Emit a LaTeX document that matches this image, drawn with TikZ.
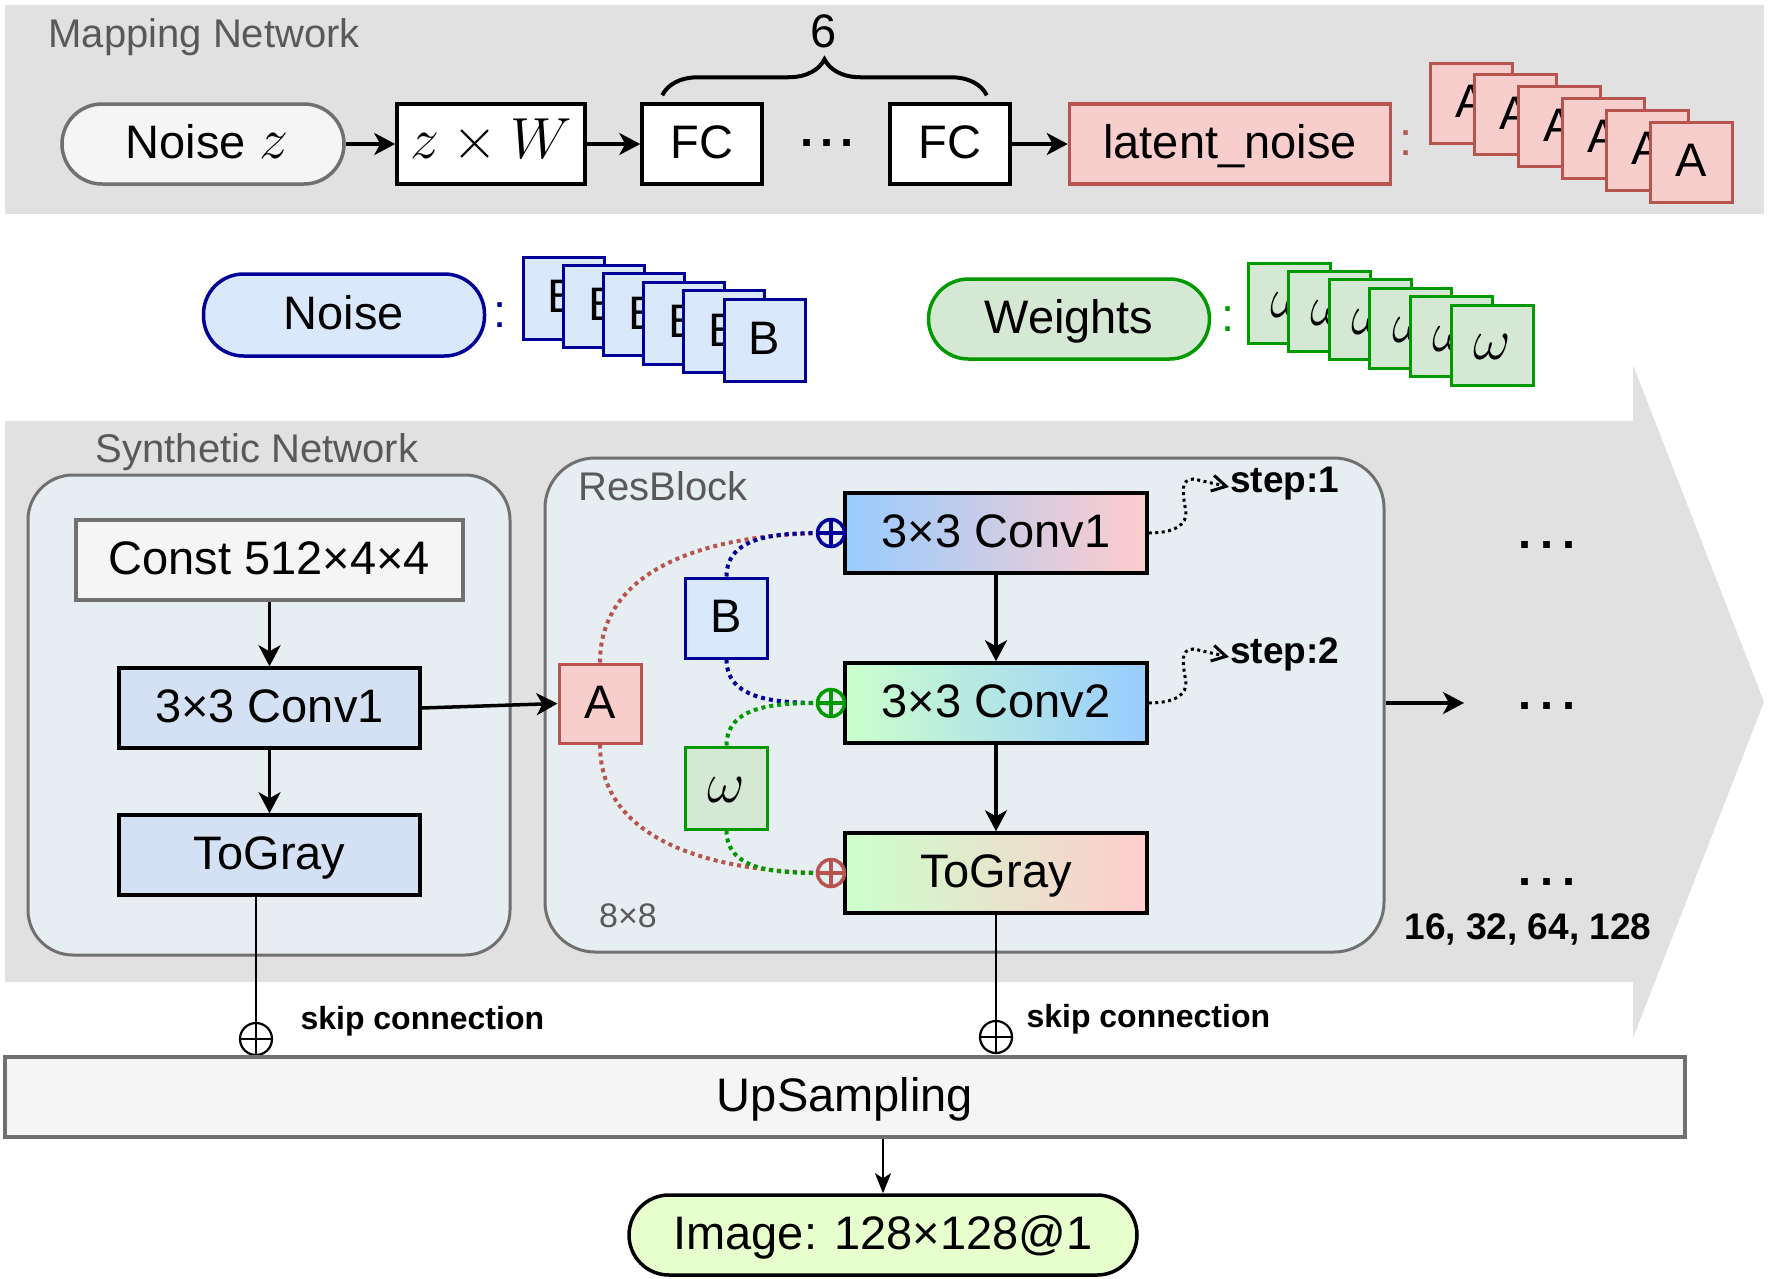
\RequirePackage{fix-cm}
\documentclass[tikz,border=0pt]{standalone}
\usepackage{fontspec}
\setmainfont{Liberation Sans}
\usetikzlibrary{arrows.meta, decorations.pathreplacing}

\definecolor{bggray}{HTML}{E1E1E1}
\definecolor{innerbg}{HTML}{E7EEF1}
\definecolor{boxgray}{HTML}{707070}
\definecolor{txtgray}{HTML}{595959}
\definecolor{redfill}{HTML}{F8CECC}
\definecolor{redline}{HTML}{B85450}
\definecolor{bluefill}{HTML}{DAE8FC}
\definecolor{blueline}{HTML}{000099}
\definecolor{greenfill}{HTML}{D5E8D4}
\definecolor{greenline}{HTML}{009900}
\definecolor{convblue}{HTML}{D4E1F5}
\definecolor{gblue}{HTML}{99CCFF}
\definecolor{gpink}{HTML}{FFCCCC}
\definecolor{ggreen}{HTML}{CCFFCC}
\definecolor{offwhite}{HTML}{F5F5F5}
\definecolor{imgfill}{HTML}{E6FFCC}

\newcommand{\fsmain}{\fontsize{47}{52}\selectfont}
\newcommand{\fslab}{\fontsize{40}{44}\selectfont}
\newcommand{\fsmath}{\fontsize{58}{62}\selectfont}
\newcommand{\fsstep}{\fontsize{37}{40}\selectfont\bfseries}
\newcommand{\fsskip}{\fontsize{32}{36}\selectfont\bfseries}

\begin{document}
\begin{tikzpicture}[x=1pt,y=-1pt,
  box/.style={draw, line width=3.5pt, inner sep=0pt, minimum height=80pt, font=\fsmain, text=black, text height=29pt, text depth=0pt},
  pill/.style={box, rounded corners=40pt},
  stk/.style={box, line width=3pt, minimum width=82pt, minimum height=80pt},
  arr/.style={line width=3.5pt, -{Stealth[length=21pt,width=22pt,inset=6pt]}},
  dotc/.style={line width=4pt, dash pattern=on 4pt off 4pt},
  opl/.style={circle, draw=#1, line width=3.5pt, minimum size=27pt, inner sep=0pt,
    path picture={\draw[#1, line width=3.5pt] (path picture bounding box.north) -- (path picture bounding box.south) (path picture bounding box.west) -- (path picture bounding box.east);}},
  oplb/.style={circle, draw=black, line width=2.2pt, minimum size=32pt, inner sep=0pt,
    path picture={\draw[black, line width=2.2pt] (path picture bounding box.north) -- (path picture bounding box.south) (path picture bounding box.west) -- (path picture bounding box.east);}},
  stepar/.style={line width=3pt, dash pattern=on 3pt off 3.5pt, -{Straight Barb[length=14pt,width=16pt,line width=3pt]}},
  dotsn/.style={font=\fsmain\bfseries, inner sep=1pt}
]
\useasboundingbox (0,0) rectangle (1770,1278);
\fill[white] (0,0) rectangle (1770,1278);

% backgrounds
\fill[bggray] (5,5) rectangle (1764,214);
\fill[bggray] (5,421) -- (1633,421) -- (1633,365) -- (1764,702) -- (1633,1038) -- (1633,982) -- (5,982) -- cycle;

% ---- Mapping network ----
\node[font=\fslab, text=txtgray, anchor=west] (mapt) at (45,37) {Mapping Network};
\node[pill, draw=boxgray, fill=offwhite, minimum width=282pt] (noisez) at (203,144) {\hspace{8pt}Noise {\fsmath$z$}};
\node[box, fill=white, minimum width=188pt] (zw) at (491,144) {\fsmath$z\times W$};
\node[box, fill=white, minimum width=120pt] (fc1) at (702,144) {FC};
\node[font=\fsmain\bfseries, inner sep=1pt] (tdots) at (827,143) {.\hspace{7pt}.\hspace{7pt}.};
\node[box, fill=white, minimum width=120pt] (fc2) at (950,144) {FC};
\node[box, draw=redline, fill=redfill, minimum width=321pt] (latent) at (1230,144) {latent\_noise};
\node[font=\fsmain, text=redline, inner sep=0pt] (c1) at (1406,143) {:};
\foreach \i in {0,...,5}
  \node[stk, draw=redline, fill=redfill] (a\i) at ({1471+44*\i},{103+11.8*\i}) {A};

\draw[arr] (noisez) -- (zw);
\draw[arr] (zw) -- (fc1);
\draw[arr] (fc2) -- (latent);
\draw[line width=4pt, decorate, decoration={brace, amplitude=36pt}]
  ([shift={(22pt,7pt)}]fc1.north west) -- ([shift={(-25pt,7pt)}]fc2.north east);
\node[font=\fsmain] (six) at (824,31) {6};

% ---- Noise / Weights row ----
\node[pill, draw=blueline, fill=bluefill, minimum width=281pt, minimum height=82pt] (noise) at (344,315) {Noise};
\node[font=\fsmain, text=blueline, inner sep=0pt] (c2) at (500,315) {:};
\foreach \i in {0,...,5}
  \node[stk, draw=blueline, fill=bluefill, minimum width=81pt, minimum height=82pt] (b\i) at ({563.5+40.2*\i},{298+8.4*\i}) {B};

\node[pill, draw=greenline, fill=greenfill, minimum width=281pt] (weights) at (1069,319) {Weights};
\node[font=\fsmain, text=greenline, inner sep=0pt] (c3) at (1228,319) {:};
\foreach \i in {0,...,5}
  \node[stk, draw=greenline, fill=greenfill] (w\i) at ({1289+40.6*\i},{303+8.4*\i}) {\fsmath$\omega$};

% ---- Synthetic network ----
\node[font=\fslab, text=txtgray] (synt) at (257,452) {Synthetic Network};
\node[draw=boxgray, line width=3pt, fill=innerbg, rounded corners=45pt, minimum width=482pt, minimum height=480pt] (lbox) at (269,715) {};
\node[box, draw=boxgray, fill=offwhite, minimum width=387pt] (const) at (269.5,560) {Const 512×4×4};
\node[box, fill=convblue, minimum width=301pt] (lconv) at (269.5,708) {3×3 Conv1};
\node[box, fill=convblue, minimum width=301pt] (ltog) at (269.5,855) {ToGray};
\draw[arr] (const) -- (lconv);
\draw[arr] (lconv) -- (ltog);

% ResBlock
\node[draw=boxgray, line width=3pt, fill=innerbg, rounded corners=50pt, minimum width=839pt, minimum height=494pt] (res) at (964.5,705) {};
\node[font=\fslab, text=txtgray, anchor=west] (rest) at (575,486) {ResBlock};
\node[font=\fontsize{34}{38}\selectfont, text=txtgray] (eight) at (628,916) {8×8};
\node[stk, draw=redline, fill=redfill, minimum height=79pt] (ra) at (600,703.5) {A};
\node[stk, draw=blueline, fill=bluefill] (rb) at (726.5,618) {B};
\node[stk, draw=greenline, fill=greenfill, minimum height=82pt] (rw) at (726.5,788) {\fsmath$\omega$};
\node[box, left color=gblue, right color=gpink, minimum width=302pt] (rc1) at (996,533) {3×3 Conv1};
\node[box, left color=ggreen, right color=gblue, minimum width=302pt] (rc2) at (996,703) {3×3 Conv2};
\node[box, left color=ggreen, right color=gpink, minimum width=302pt] (rtg) at (996,873) {ToGray};

\draw[arr] (lconv.east) -- (ra.west);
\draw[arr] (rc1) -- (rc2);
\draw[arr] (rc2) -- (rtg);

\draw[dotc, redline] (ra.north) to[out=90,in=180] (831,533);
\draw[dotc, redline] (ra.south) to[out=-90,in=180] (831,873);
\draw[dotc, blueline] (rb.north) to[out=90,in=180] (831,533);
\draw[dotc, blueline] (rb.south) to[out=-90,in=180] (831,703);
\draw[dotc, greenline] (rw.north) to[out=90,in=180] (831,703);
\draw[dotc, greenline] (rw.south) to[out=-90,in=180] (831,873);
\node[opl=blueline] (p1) at (831,533) {};
\node[opl=greenline] (p2) at (831,703) {};
\node[opl=redline] (p3) at (831,873) {};

% step arrows
\node[font=\fsstep, anchor=west, inner sep=1pt] (st1) at (1229,484) {step:1};
\node[font=\fsstep, anchor=west, inner sep=1pt] (st2) at (1229,654) {step:2};
\draw[stepar] (rc1.east) .. controls +(25,0) and +(2,14) .. ++(37,-22)
   .. controls +(-3,-18) and +(-14,0) .. ++(8,-32) -- ([yshift=-3pt]st1.west);
\draw[stepar] (rc2.east) .. controls +(25,0) and +(2,14) .. ++(37,-22)
   .. controls +(-3,-18) and +(-14,0) .. ++(8,-32) -- ([yshift=-3pt]st2.west);

% continuation
\coordinate (resarr) at (1464,703);
\draw[arr] (res.east |- resarr) -- (resarr);
\node[dotsn] (d1) at (1547,545) {.\hspace{9pt}.\hspace{9pt}.};
\node[dotsn] (d2) at (1547,706) {.\hspace{9pt}.\hspace{9pt}.};
\node[dotsn] (d3) at (1547,882) {.\hspace{9pt}.\hspace{9pt}.};
\node[font=\fsstep] (sizes) at (1528,929) {16, 32, 64, 128};

% ---- skip connections / upsampling ----
\node[oplb] (sk1) at (256,1039) {};
\node[oplb] (sk2) at (996,1037) {};
\draw[line width=2.5pt] (sk1 |- ltog.south) -- (sk1.north);
\draw[line width=2.5pt] (rtg.south) -- (sk2.north);
\node[font=\fsskip, anchor=west] (skt1) at (297,1021) {skip connection};
\node[font=\fsskip, anchor=west] (skt2) at (1023,1019) {skip connection};

\node[box, draw=boxgray, fill=offwhite, minimum width=1680pt] (up) at (845,1097) {UpSampling};
\node[pill, fill=imgfill, minimum width=508pt, minimum height=80pt] (img) at (883,1235) {Image: 128×128@1};
\draw[line width=2.5pt, -{Stealth[length=20pt,width=16pt,inset=5pt]}] (up.south -| img.north) -- (img.north);
\end{tikzpicture}
\end{document}
